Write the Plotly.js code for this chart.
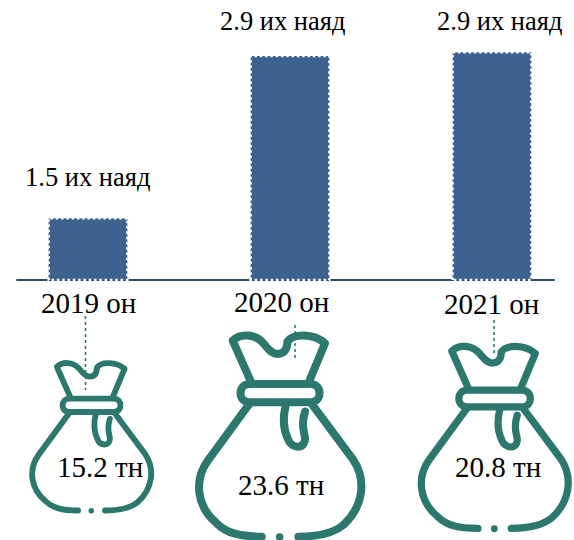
<!DOCTYPE html>
<html>
<head>
<meta charset="utf-8">
<script src="https://cdn.plot.ly/plotly-3.0.1.min.js"></script>
<style>
html,body{margin:0;padding:0;background:#fff;}
#chart{width:574px;height:540px;}
.bars .point path{stroke-dasharray:2.5 2.8;}
</style>
</head>
<body>
<div id="chart"></div>
<script>
const years = ["2019 он", "2020 он", "2021 он"];
const barHeights = [0.80, 2.90, 2.95];
const barLabels = ["1.5 их наяд", "2.9 их наяд", "2.9 их наяд"];
const bagLabels = ["15.2 тн", "23.6 тн", "20.8 тн"];

const BLUE = "#3d6290", TEAL = "#2d786e", SERIF = "'Liberation Serif', serif";

// page-pixel placement of each text / icon
const yearPos = [[88, 303], [281.5, 302], [491, 304]];
const barLabelPos = [[87.5, 177], [282, 21], [499, 21]];
const bagLabelPos = [[99.5, 467], [280.5, 485], [498, 467]];
const bagAnchor = [[91.3, 511, 0.733], [279.7, 537.3, 1], [494.3, 529, 0.905]];
const leaders = [[85.5, 316, 390], [295, 325, 360], [494, 320, 354]];

// icon outline, in a 3x drawing grid whose origin is the bottom dot
const T = (x, y, a) => [(x - 269) / 3 * a[2] + a[0], (y - 712) / 3 * a[2] + a[1]];
const iconPaths = [
  ["M",185,250,"L",128,122,"C",150,100,195,100,220,130,"C",240,155,250,162,262,162,"C",285,162,292,145,292,125,"C",310,100,370,100,405,130,"L",355,250],
  ["M",180,252,"L",360,252,"C",398,252,398,307,360,307,"L",180,307,"C",142,307,142,252,180,252,"Z"],
  ["M",178,312,"L",55,480,"C",10,540,20,620,80,670,"C",110,700,150,710,215,710],
  ["M",365,312,"L",490,480,"C",530,540,520,620,460,675,"C",430,700,390,710,325,710],
  ["M",288,312,"C",278,350,280,390,295,420,"C",305,445,345,450,345,415,"C",345,400,330,380,345,335]
];
function place(cmd, a) {
  let out = "", i = 0;
  while (i < cmd.length) {
    if (typeof cmd[i] === "string") { out += cmd[i] + " "; i++; continue; }
    const p = T(cmd[i], cmd[i + 1], a);
    out += p[0].toFixed(2) + " " + p[1].toFixed(2) + " ";
    i += 2;
  }
  return out;
}

const shapes = [{type:"line", xref:"x2", yref:"y2", x0:17, x1:554, y0:280, y1:280, line:{color:"#2b4a72", width:2}, layer:"below"}];
bagAnchor.forEach(a => {
  iconPaths.forEach(c => shapes.push({type:"path", xref:"x2", yref:"y2", path:place(c, a), line:{color:TEAL, width:8 * a[2]}, fillcolor:"rgba(0,0,0,0)"}));
  const d = T(269, 711, a), r = 3.8 * a[2];
  shapes.push({type:"circle", xref:"x2", yref:"y2", x0:d[0]-r, x1:d[0]+r, y0:d[1]-r, y1:d[1]+r, fillcolor:TEAL, line:{width:0}});
});

const textNote = (s, p, size) => ({text:s, x:p[0], y:p[1], xref:"x2", yref:"y2", xanchor:"center", yanchor:"middle", showarrow:false, font:{family:SERIF, size:size, color:"#000"}});
const annotations = []
  .concat(years.map((s, i) => textNote(s, yearPos[i], 29)))
  .concat(barLabels.map((s, i) => textNote(s, barLabelPos[i], 26.5)))
  .concat(bagLabels.map((s, i) => textNote(s, bagLabelPos[i], 29)));

const traces = [{
  type:"bar", x:years, y:barHeights, width:0.39, marker:{color:BLUE, line:{color:"#fff", width:2.5}}, hoverinfo:"skip"
}].concat(leaders.map(l => ({
  type:"scatter", mode:"lines", xaxis:"x2", yaxis:"y2", x:[l[0], l[0]], y:[l[1], l[2]], line:{color:TEAL, width:1.6, dash:"dot"}, hoverinfo:"skip"
})));

const layout = {
  width:574, height:540, margin:{l:0, r:0, t:0, b:0}, showlegend:false, paper_bgcolor:"#fff", plot_bgcolor:"#fff",
  xaxis:{type:"category", visible:false, range:[-0.4356, 2.406], fixedrange:true},
  yaxis:{visible:false, range:[-3.366, 3.625], fixedrange:true},
  xaxis2:{visible:false, overlaying:"x", range:[0, 574], fixedrange:true},
  yaxis2:{visible:false, overlaying:"y", range:[540, 0], fixedrange:true},
  shapes:shapes, annotations:annotations
};
Plotly.newPlot("chart", traces, layout, {staticPlot:true, displayModeBar:false}).then(() => {
  document.querySelectorAll(".shapelayer path").forEach(p => { p.style.strokeLinecap = "round"; p.style.strokeLinejoin = "round"; });
});
</script>
</body>
</html>
